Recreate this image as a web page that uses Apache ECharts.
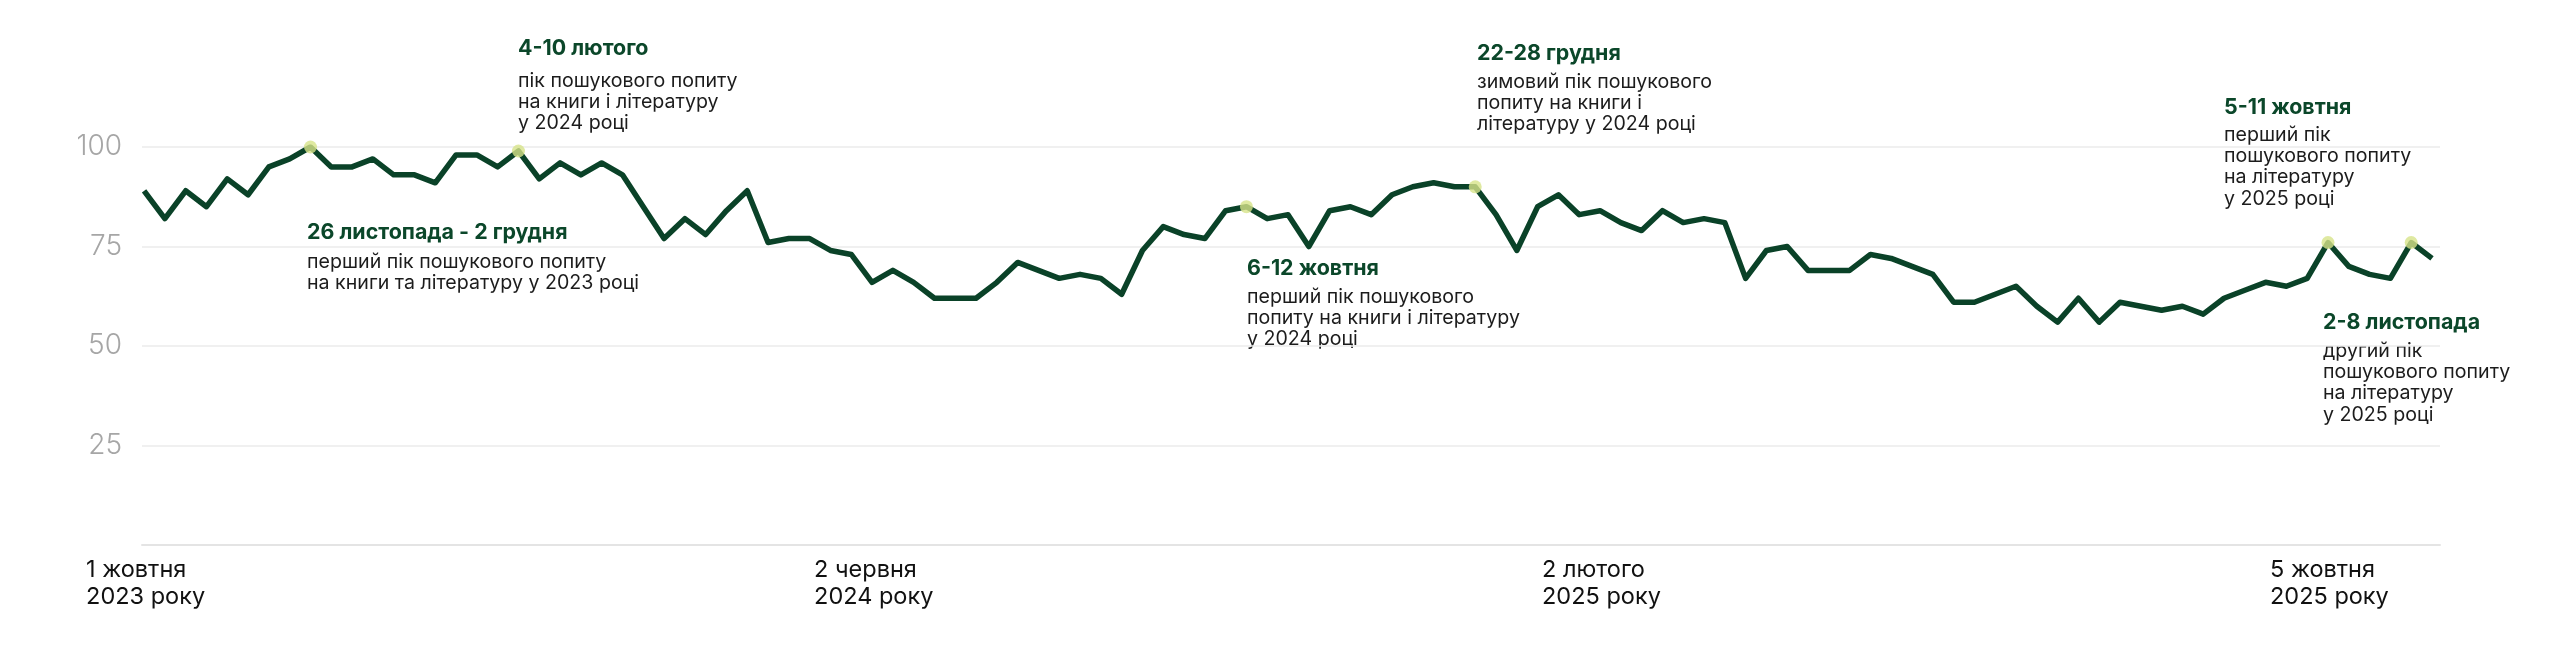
<!DOCTYPE html>
<html>
<head>
<meta charset="utf-8">
<script src="https://cdn.jsdelivr.net/npm/echarts@6/dist/echarts.min.js"></script>
<style>
html,body{margin:0;padding:0;background:#fff;}
#chart{width:2560px;height:651px;}
</style>
</head>
<body>
<div id="chart"></div>
<script>
// Weekly search interest index, week starting 1 Oct 2023 ... 9 Nov 2025
const weeklyValues = [
  89,82,89,85,92,88,95,97,100,95,
  95,97,93,93,91,98,98,95,99,92,
  96,93,96,93,85,77,82,78,84,89,
  76,77,77,74,73,66,69,66,62,62,
  62,66,71,69,67,68,67,63,74,80,
  78,77,84,85,82,83,75,84,85,83,
  88,90,91,90,90,83,74,85,88,83,
  84,81,79,84,81,82,81,67,74,75,
  69,69,69,73,72,70,68,61,61,63,
  65,60,56,62,56,61,60,59,60,58,
  62,64,66,65,67,76,70,68,67,76,
  72
];
const peakIndex = [8, 18, 53, 64, 105, 109];
const xTickIndex = [0, 35, 70, 105];
const xTickText = [
  ['1 жовтня', '2023 року'],
  ['2 червня', '2024 року'],
  ['2 лютого', '2025 року'],
  ['5 жовтня', '2025 року']
];
const yTicks = [25, 50, 75, 100];

const annTitles = ['26 листопада - 2 грудня', '4-10 лютого', '6-12 жовтня', '22-28 грудня', '5-11 жовтня', '2-8 листопада'];
const annBodies = [
  ['перший пік пошукового попиту', 'на книги та літературу у 2023 році'],
  ['пік пошукового попиту', 'на книги і літературу', 'у 2024 році'],
  ['перший пік пошукового', 'попиту на книги і літературу', 'у 2024 році'],
  ['зимовий пік пошукового', 'попиту на книги і', 'літературу у 2024 році'],
  ['перший пік', 'пошукового попиту', 'на літературу', 'у 2025 році'],
  ['другий пік', 'пошукового попиту', 'на літературу', 'у 2025 році']
];
// annotation placement (pixels): left x, title centre y, first body line centre y
const annPos = [
  [307, 233, 262],
  [518, 49, 81],
  [1247, 269, 297],
  [1477, 54, 82],
  [2224, 108, 135],
  [2323, 323, 351]
];

const FONT = 'Inter, "Open Sans", "Noto Sans", sans-serif';
const GREEN = '#0a4228';

const lineData = weeklyValues.map((v, i) => [i, v]);
const peakData = peakIndex.map(i => [i, weeklyValues[i]]);

const graphics = [];
annTitles.forEach((t, k) => {
  const [x, ty, by] = annPos[k];
  graphics.push({
    type: 'text', left: x, top: ty - 12.5,
    style: { text: t, fill: '#0b472a', font: '700 21.4px ' + FONT, lineHeight: 25 }
  });
  graphics.push({
    type: 'text', left: x, top: by - 10.65,
    style: { text: annBodies[k].join('\n'), fill: '#1c1c1c', font: '400 19.6px ' + FONT, lineHeight: 21.3 }
  });
});

const chart = echarts.init(document.getElementById('chart'), null, { renderer: 'canvas' });
chart.setOption({
  animation: false,
  backgroundColor: '#ffffff',
  grid: { left: 142, right: 120, top: 147, bottom: 106, containLabel: false },
  xAxis: {
    type: 'value',
    min: -0.1,
    max: 110.385,
    splitLine: { show: false },
    axisTick: { show: false },
    axisLine: { show: true, lineStyle: { color: '#e4e4e4', width: 2 } },
    axisLabel: {
      customValues: xTickIndex,
      margin: 11,
      align: 'center',
      verticalAlign: 'top',
      formatter: function (v) {
        const k = xTickIndex.indexOf(Math.round(v));
        if (k < 0) return '';
        return xTickText[k].map(s => '{a|' + s + '}').join('\n');
      },
      rich: {
        a: { width: 116, align: 'left', fontSize: 23.5, lineHeight: 27, color: '#111', fontFamily: FONT }
      }
    }
  },
  yAxis: {
    type: 'value',
    min: 0,
    max: 100,
    interval: 25,
    axisLine: { show: false },
    axisTick: { show: false },
    splitLine: { show: true, lineStyle: { color: '#ebebeb', width: 1.5 } },
    axisLabel: {
      margin: 20,
      color: '#a6a6a6',
      fontSize: 28,
      fontWeight: 300,
      fontFamily: FONT,
      formatter: v => (yTicks.indexOf(v) >= 0 ? String(v) : '')
    }
  },
  series: [
    {
      type: 'line',
      data: lineData,
      symbol: 'none',
      lineStyle: { color: GREEN, width: 5.5, join: 'round' },
      z: 2
    },
    {
      type: 'scatter',
      data: peakData,
      symbol: 'circle',
      symbolSize: 13,
      itemStyle: { color: '#d7e38a' },
      z: 3
    }
  ],
  graphic: graphics
});
</script>
</body>
</html>
